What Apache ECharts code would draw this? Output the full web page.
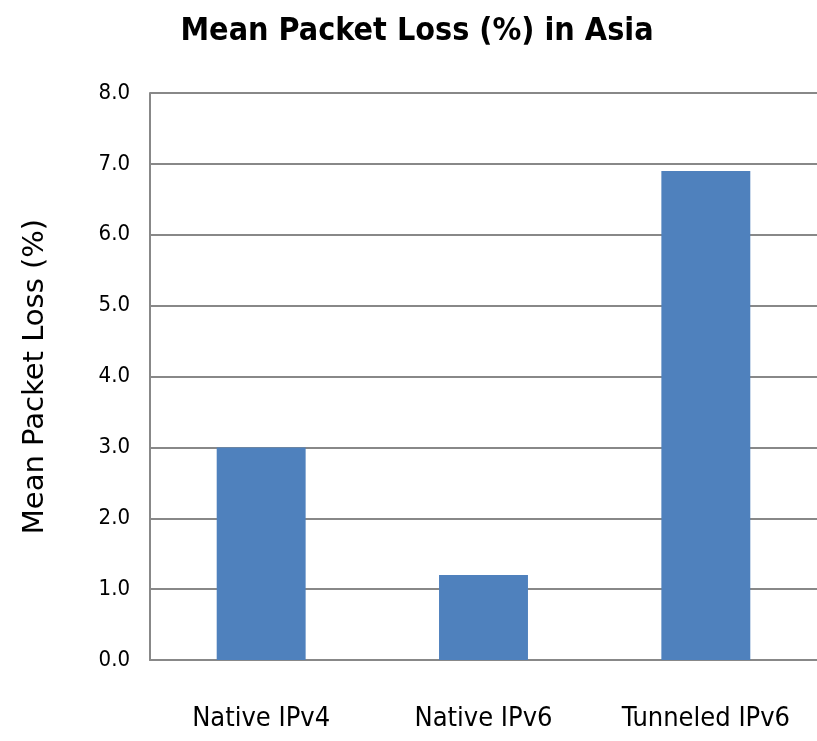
<!DOCTYPE html>
<html>
<head>
<meta charset="utf-8">
<script src="https://cdn.jsdelivr.net/npm/echarts@6/dist/echarts.min.js"></script>
<style>
  html, body { margin: 0; padding: 0; background: #fff; }
  #chart { width: 817px; height: 741px; }
</style>
</head>
<body>
<div id="chart"></div>
<script>
const categories = ["Native IPv4", "Native IPv6", "Tunneled IPv6"];
const lossValues = [3.0, 1.2, 6.9];
const yTicks = { min: 0, max: 8, interval: 1 };

const narrow = "'Liberation Sans Narrow', 'DejaVu Sans Condensed', sans-serif";

const chart = echarts.init(document.getElementById("chart"));
chart.setOption({
  animation: false,
  title: {
    text: "Mean Packet Loss (%) in Asia",
    left: 412,
    textAlign: "center",
    top: 11,
    textStyle: { fontFamily: narrow, fontSize: 32, fontWeight: "bold", color: "#000" },
  },
  grid: { left: 150, right: 0, top: 93, bottom: 81 },
  xAxis: {
    type: "category",
    data: categories,
    axisLine: { lineStyle: { color: "#888", width: 2 } },
    axisTick: { show: false },
    axisLabel: { fontFamily: narrow, fontSize: 27, color: "#000", margin: 45 },
  },
  yAxis: {
    type: "value",
    min: yTicks.min,
    max: yTicks.max,
    interval: yTicks.interval,
    name: "Mean Packet Loss (%)",
    nameLocation: "middle",
    nameGap: 100,
    nameTextStyle: { fontFamily: "'DejaVu Sans', sans-serif", fontSize: 29, color: "#000" },
    axisLine: { show: true, lineStyle: { color: "#888", width: 2 } },
    axisTick: { show: false },
    axisLabel: {
      fontFamily: narrow, fontSize: 22, color: "#000", margin: 20,
      formatter: (v) => v.toFixed(1),
    },
    splitLine: { lineStyle: { color: "#888", width: 2 } },
  },
  series: [
    {
      type: "bar",
      data: lossValues,
      barWidth: "40%",
      itemStyle: { color: "#4f81bd" },
    },
  ],
});
</script>
</body>
</html>
